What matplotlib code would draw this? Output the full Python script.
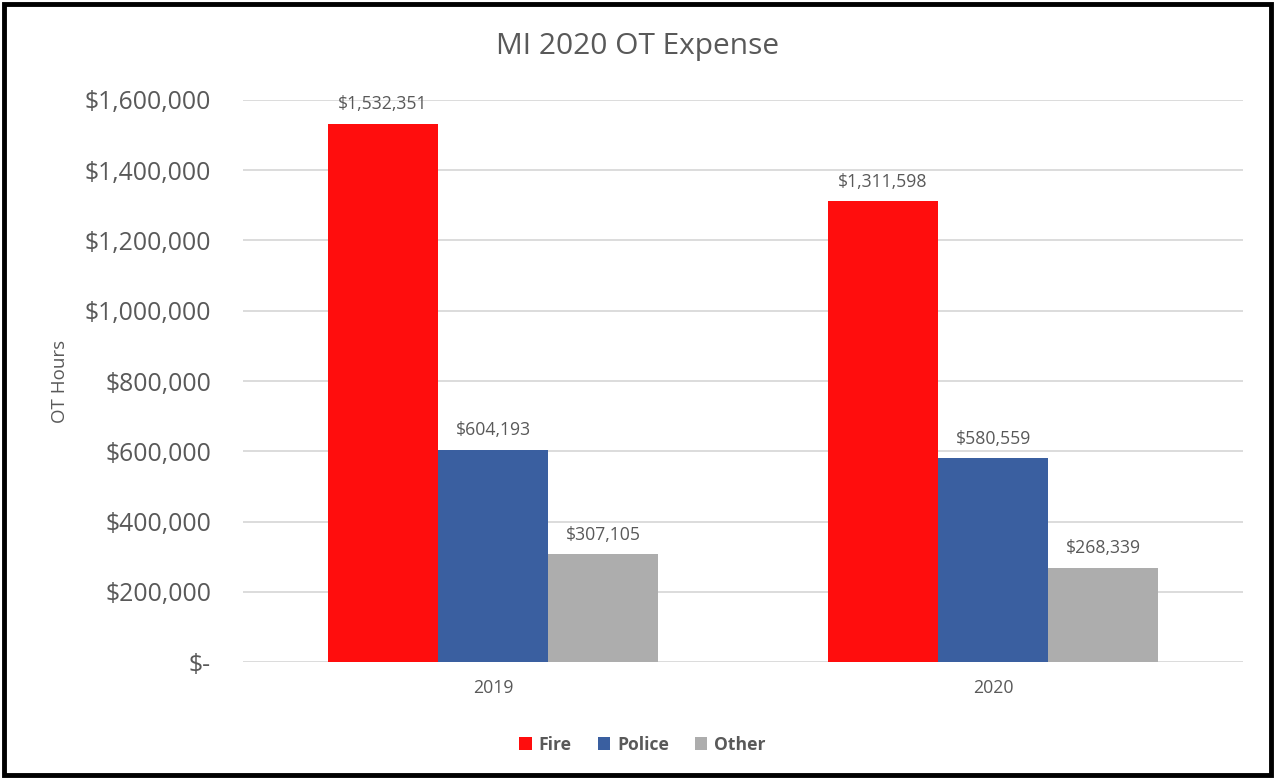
import numpy as np
import matplotlib.pyplot as plt
from matplotlib.patches import Rectangle

plt.rcParams['font.family'] = ['Open Sans', 'DejaVu Sans']

years = ['2019', '2020']
fire = [1532351, 1311598]
police = [604193, 580559]
other = [307105, 268339]
series = [('Fire', fire, '#FF0D0D'), ('Police', police, '#3A5FA0'), ('Other', other, '#ADADAD')]

txt = '#595959'
fig = plt.figure(figsize=(12.75, 7.78), dpi=100)
ax = fig.add_axes([0.1906, 0.149, 0.7844, 0.7225])

x = np.arange(len(years))
w = 0.22
for i, (name, vals, col) in enumerate(series):
    pos = x + (i - 1) * w
    ax.bar(pos, vals, w, color=col, label=name, zorder=3)
    for p, v in zip(pos, vals):
        ax.text(p, v + 30000, '${:,}'.format(v), ha='center', va='bottom',
                fontsize=12.7, color=txt)

ax.set_xlim(-0.5, 1.5)
ax.set_ylim(0, 1600000)
ax.set_yticks(np.arange(0, 1600001, 200000))
ax.set_yticklabels(['$-' if t == 0 else '${:,}'.format(t) for t in range(0, 1600001, 200000)])
ax.set_xticks(x)
ax.set_xticklabels(years)
ax.tick_params(axis='y', length=0, labelsize=17.8, labelcolor=txt, pad=23)
ax.tick_params(axis='x', length=0, labelsize=12.8, labelcolor=txt, pad=12)
ax.grid(axis='y', color='#D9D9D9', linewidth=1.3, zorder=0)
for s in ax.spines.values():
    s.set_visible(False)
ax.set_ylabel('OT Hours', fontsize=13.5, color=txt, labelpad=11)

fig.text(0.5, 0.94, 'MI 2020 OT Expense', ha='center', va='center', fontsize=21.5, color=txt)

leg = fig.legend(loc='center', bbox_to_anchor=(0.504, 0.043), ncol=3, frameon=False,
                 handlelength=0.7, handleheight=0.7, handletextpad=0.4, columnspacing=1.5,
                 prop={'size': 12.6, 'weight': 'bold'})
for t in leg.get_texts():
    t.set_color(txt)

fig.patches.append(Rectangle((0.003, 0.004), 0.994, 0.991, transform=fig.transFigure,
                             fill=False, edgecolor='black', linewidth=3.5))

fig.savefig('out.png', dpi=100)
